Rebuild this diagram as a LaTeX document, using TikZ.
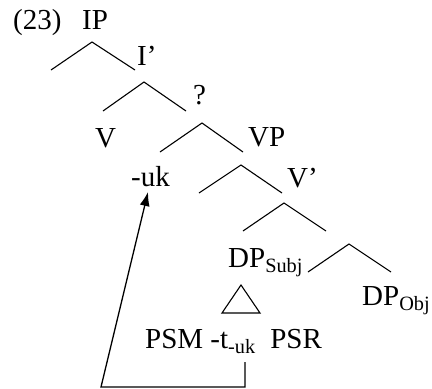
\documentclass[tikz,border=0pt]{standalone}
\usepackage{fontspec}
\setmainfont{Liberation Serif}
\usetikzlibrary{arrows.meta}
\begin{document}
\begin{tikzpicture}[x=1pt,y=-1pt,
  lbl/.style={anchor=base west,inner sep=0pt,font=\fontsize{29}{33}\selectfont},
  br/.style={line width=1.1pt},
  mv/.style={line width=1.3pt,-{Latex[length=14pt,width=10pt]}}]
\useasboundingbox (0,0) rectangle (432,389);
% labels
\node[lbl] (ex) at (13,29) {(23)};
\node[lbl] (ip) at (82,29) {IP};
\node[lbl] (ib) at (137,65) {I’};
\node[lbl] (q) at (193,104) {?};
\node[lbl] (v) at (95,147) {V};
\node[lbl] (vp) at (248,146) {VP};
\node[lbl] (uk) at (131,186) {-uk};
\node[lbl] (vb) at (287,187) {V’};
\node[lbl] (dps) at (228,267) {DP\textsubscript{Subj}};
\node[lbl] (dpo) at (362,305) {DP\textsubscript{Obj}};
\node[lbl] (psm) at (145,348) {PSM -t\textsubscript{-uk}\ \ PSR};
% branches
\coordinate (a1) at (92,42);  \draw[br] (51,70) -- (a1) -- (135,70);
\coordinate (a2) at (144,82); \draw[br] (103,111) -- (a2) -- (186,111);
\coordinate (a3) at (202,123); \draw[br] (160,152) -- (a3) -- (243,152);
\coordinate (a4) at (241,165); \draw[br] (199,193) -- (a4) -- (282,193);
\coordinate (a5) at (284,203); \draw[br] (243,231) -- (a5) -- (326,231);
\coordinate (a6) at (349,244); \draw[br] (308,272) -- (a6) -- (391,272);
% triangle
\draw[br] (241,285) -- (222,313) -- (260,313) -- cycle;
% movement arrow
\coordinate (t0) at (245,362);
\coordinate (c1) at (245,387);
\coordinate (c2) at (101,387);
\coordinate (tip) at (148,192);
\draw[mv] (t0) -- (c1) -- (c2) -- (tip);
\end{tikzpicture}
\end{document}
